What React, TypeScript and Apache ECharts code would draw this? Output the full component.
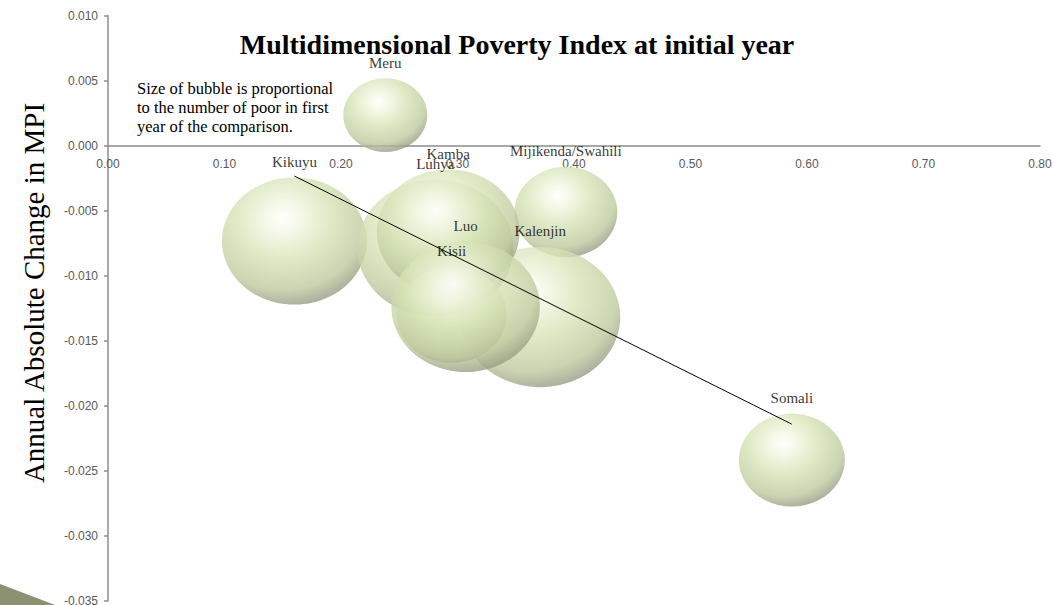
import React, { useEffect, useRef } from "react";
import * as echarts from "echarts";

const groups = ["Kikuyu", "Meru", "Somali", "Mijikenda/Swahili", "Kalenjin", "Luhya", "Kamba", "Kisii", "Luo"];
const mpiInitial = [0.16, 0.238, 0.587, 0.393, 0.371, 0.281, 0.292, 0.295, 0.307];
const annualChange = [-0.00733, 0.00236, -0.02418, -0.0051, -0.01318, -0.00787, -0.00664, -0.013, -0.0124];
const bubbleSize = [10.1, 3.4, 5.4, 5.1, 12.3, 11.7, 9.8, 5.8, 10.6];

const xTicks = { min: 0, max: 0.8, interval: 0.1 };
const yTicks = { min: -0.035, max: 0.01, interval: 0.005 };

const SERIF = "'Liberation Serif', 'DejaVu Serif', serif";
const SANS = "'Liberation Sans', 'DejaVu Sans', sans-serif";

const W = 1053;
const H = 605;
const GRID = { left: 108, right: 13, top: 15.7, bottom: 4.3 };

function regression(xs: number[], ys: number[]) {
  const n = xs.length;
  const mx = xs.reduce((a, b) => a + b, 0) / n;
  const my = ys.reduce((a, b) => a + b, 0) / n;
  let sxy = 0, sxx = 0;
  for (let i = 0; i < n; i++) {
    sxy += (xs[i] - mx) * (ys[i] - my);
    sxx += (xs[i] - mx) ** 2;
  }
  const b = sxy / sxx;
  return { a: my - b * mx, b };
}

export default function App() {
  const ref = useRef<HTMLDivElement>(null);
  useEffect(() => {
    document.body.style.margin = "0";
    const chart = echarts.init(ref.current!, null, { renderer: "svg" });
    const bubbleColor = new echarts.graphic.RadialGradient(0.42, 0.32, 0.75, [
      { offset: 0, color: "#ffffff" },
      { offset: 0.14, color: "#f4f8e6" },
      { offset: 0.45, color: "#d6e3b5" },
      { offset: 0.75, color: "#bfca9f" },
      { offset: 0.93, color: "#959b83" },
      { offset: 1, color: "#c3cbab" },
    ]);
    const { a, b } = regression(mpiInitial, annualChange);
    const xMin = Math.min(...mpiInitial);
    const xMax = Math.max(...mpiInitial);
    const data = groups.map((g, i) => {
      const h = 40 * Math.sqrt(bubbleSize[i]);
      return {
        name: g,
        value: [mpiInitial[i], annualChange[i]],
        symbolSize: [h * 1.14, h],
      };
    });
    const gridH = H - GRID.top - GRID.bottom;
    const zeroOffset = -gridH * (0 - yTicks.min) / (yTicks.max - yTicks.min);
    chart.setOption({
      animation: false,
      grid: { ...GRID, containLabel: false, outerBoundsMode: "none" },
      xAxis: {
        type: "value",
        min: xTicks.min,
        max: xTicks.max,
        interval: xTicks.interval,
        position: "bottom",
        offset: zeroOffset,
        splitLine: { show: false },
        axisLine: { onZero: false, lineStyle: { color: "#8c8c8c", width: 1.5 } },
        axisTick: { show: false },
        axisLabel: {
          margin: 12,
          color: "#595959",
          fontFamily: SANS,
          fontSize: 12,
          formatter: (v: number) => v.toFixed(2),
        },
      },
      yAxis: {
        type: "value",
        min: yTicks.min,
        max: yTicks.max,
        interval: yTicks.interval,
        splitLine: { show: false },
        axisLine: { show: true, onZero: false, lineStyle: { color: "#8c8c8c", width: 1.5 } },
        axisTick: { show: true, length: 4, lineStyle: { color: "#8c8c8c", width: 1.5 } },
        axisLabel: {
          margin: 10,
          color: "#595959",
          fontFamily: SANS,
          fontSize: 12,
          formatter: (v: number) => v.toFixed(3),
        },
      },
      series: [
        {
          type: "scatter",
          data,
          itemStyle: {
            color: bubbleColor,
            opacity: 0.8,
          },
          label: {
            show: true,
            position: "top",
            distance: 8,
            formatter: (p: any) => p.name,
            fontFamily: SERIF,
            fontSize: 15,
            color: "#000000",
          },
          emphasis: { disabled: true },
          z: 2,
        },
        {
          type: "line",
          data: [
            [xMin, a + b * xMin],
            [xMax, a + b * xMax],
          ],
          symbol: "none",
          lineStyle: { color: "#000000", width: 1 },
          z: 3,
          silent: true,
        },
      ],
      graphic: [
        {
          type: "text",
          x: 517,
          y: 44,
          style: {
            text: "Multidimensional Poverty Index at initial year",
            font: `bold 28px ${SERIF}`,
            fill: "#000000",
            align: "center",
            verticalAlign: "middle",
          },
        },
        {
          type: "text",
          x: 34,
          y: 293,
          rotation: Math.PI / 2,
          style: {
            text: "Annual Absolute Change in MPI",
            font: `29px ${SERIF}`,
            fill: "#000000",
            align: "center",
            verticalAlign: "middle",
          },
        },
        {
          type: "text",
          left: 137,
          top: 79,
          style: {
            text: "Size of bubble is proportional\nto the number of poor in first\nyear of the comparison.",
            font: `16.5px ${SERIF}`,
            lineHeight: 19,
            fill: "#000000",
          },
        },
        {
          type: "polygon",
          shape: { points: [[0, 584], [55, 605], [0, 605]] },
          style: { fill: "#8c9172" },
        },
      ],
    });
    return () => chart.dispose();
  }, []);
  return <div ref={ref} style={{ width: W, height: H }} />;
}
